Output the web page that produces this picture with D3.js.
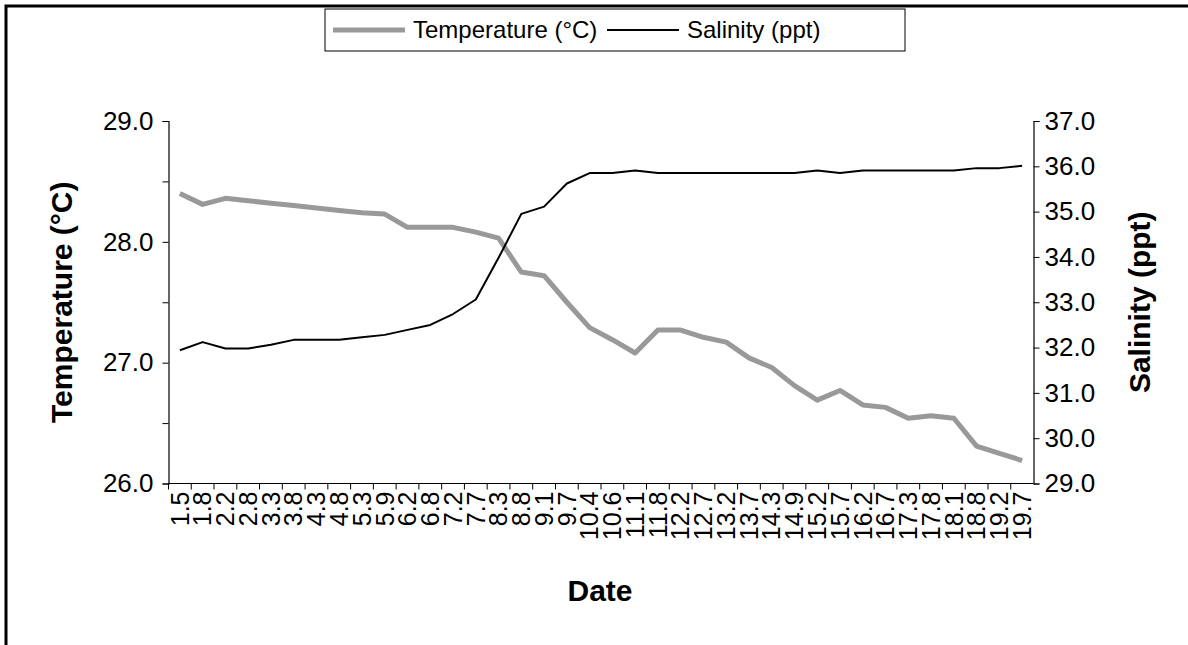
<!DOCTYPE html>
<html>
<head>
<meta charset="utf-8">
<script src="https://cdn.jsdelivr.net/npm/d3@7"></script>
<style>
  body { margin: 0; background: #fff; }
  svg { display: block; font-family: "Liberation Sans", Arial, sans-serif; }
</style>
</head>
<body>
<script>
// dates (day.month style labels as in the source chart)
const dates = ['1.5', '1.8', '2.2', '2.8', '3.3', '3.8', '4.3', '4.8', '5.3', '5.9',
    '6.2', '6.8', '7.2', '7.7', '8.3', '8.8', '9.1', '9.7', '10.4', '10.6',
    '11.1', '11.8', '12.2', '12.7', '13.2', '13.7', '14.3', '14.9', '15.2', '15.7',
    '16.2', '16.7', '17.3', '17.8', '18.1', '18.8', '19.2', '19.7'];

const temperature = [28.40, 28.31, 28.36, 28.34, 28.32, 28.30, 28.28, 28.26, 28.24, 28.23,
    28.12, 28.12, 28.12, 28.08, 28.03, 27.75, 27.72, 27.50, 27.29, 27.19,
    27.08, 27.27, 27.27, 27.21, 27.17, 27.04, 26.96, 26.81, 26.69, 26.77,
    26.65, 26.63, 26.54, 26.56, 26.54, 26.31, 26.25, 26.19];

const salinity = [31.94, 32.12, 31.98, 31.98, 32.06, 32.17, 32.17, 32.17, 32.23, 32.28,
    32.39, 32.50, 32.74, 33.06, 33.98, 34.95, 35.11, 35.62, 35.85, 35.85,
    35.91, 35.85, 35.85, 35.85, 35.85, 35.85, 35.85, 35.85, 35.91, 35.85,
    35.91, 35.91, 35.91, 35.91, 35.91, 35.96, 35.96, 36.01];

const tempTicks = [26, 26.5, 27, 27.5, 28, 28.5, 29];
const salTicks = [29, 30, 31, 32, 33, 34, 35, 36, 37];

const series = [
    { name: 'Temperature (°C)', values: temperature, color: '#999999', width: 5 },
    { name: 'Salinity (ppt)', values: salinity, color: '#000000', width: 2 }
];

const W = 1188, H = 645;
const plot = { left: 168.5, right: 1033.5, top: 121, bottom: 483.5 };

const svg = d3.select('body').append('svg')
    .attr('width', W)
    .attr('height', H);

// outer chart frame (only top and left edges fall inside the window)
svg.append('path')
    .attr('d', `M6,${H + 5}V6H${W + 5}`)
    .attr('fill', 'none')
    .attr('stroke', '#000')
    .attr('stroke-width', 3);

const x = d3.scaleBand()
    .domain(dates)
    .range([plot.left, plot.right])
    .padding(0);

const yT = d3.scaleLinear().domain([26, 29]).range([plot.bottom, plot.top]);
const yS = d3.scaleLinear().domain([29, 37]).range([plot.bottom, plot.top]);

const cx = d => x(d) + x.bandwidth() / 2;

// left axis
const leftAxis = svg.append('g')
    .attr('transform', `translate(${plot.left},0)`)
    .call(d3.axisLeft(yT)
        .tickValues(tempTicks)
        .tickSize(6)
        .tickPadding(9)
        .tickFormat(d => Number.isInteger(d) ? d3.format('.1f')(d) : ''));

// right axis
const rightAxis = svg.append('g')
    .attr('transform', `translate(${plot.right},0)`)
    .call(d3.axisRight(yS)
        .tickValues(salTicks)
        .tickSize(6)
        .tickPadding(5)
        .tickFormat(d3.format('.1f')));

// bottom axis: labels at category centres, tick marks between categories
const bottomAxis = svg.append('g')
    .attr('transform', `translate(0,${plot.bottom})`)
    .call(d3.axisBottom(x).tickSize(0).tickPadding(0));

bottomAxis.select('.domain').attr('d', `M${plot.left},0H${plot.right}`);

bottomAxis.selectAll('.tick text')
    .attr('transform', 'rotate(-90)')
    .attr('text-anchor', 'end')
    .attr('x', -8)
    .attr('y', 0)
    .attr('dy', '0.35em')
    .style('font-size', '25px');

bottomAxis.selectAll('line.sep')
    .data(dates)
    .enter()
    .append('line')
    .attr('class', 'sep')
    .attr('x1', d => x(d))
    .attr('x2', d => x(d))
    .attr('y1', 0)
    .attr('y2', 6)
    .attr('stroke', '#000');

[leftAxis, rightAxis, bottomAxis].forEach(g => {
    g.selectAll('.domain').attr('stroke', '#000').attr('stroke-width', 1.2);
    g.selectAll('.tick line').attr('stroke', '#000');
    g.selectAll('text').attr('fill', '#000').attr('font-family', null);
});
leftAxis.selectAll('text').style('font-size', '26px');
rightAxis.selectAll('text').style('font-size', '26px');

// lines
const lineFor = scale => d3.line()
    .x((d, i) => cx(dates[i]))
    .y(d => scale(d));

series.forEach((s, i) => {
    svg.append('path')
        .datum(s.values)
        .attr('d', lineFor(i === 0 ? yT : yS))
        .attr('fill', 'none')
        .attr('stroke', s.color)
        .attr('stroke-width', s.width)
        .attr('stroke-linejoin', 'round');
});

// axis titles
const titleSize = '30px';
svg.append('text')
    .attr('transform', `translate(72,${(plot.top + plot.bottom) / 2}) rotate(-90)`)
    .attr('text-anchor', 'middle')
    .style('font-size', titleSize)
    .style('font-weight', 'bold')
    .text('Temperature (°C)');

svg.append('text')
    .attr('transform', `translate(1150,${(plot.top + plot.bottom) / 2}) rotate(-90)`)
    .attr('text-anchor', 'middle')
    .style('font-size', titleSize)
    .style('font-weight', 'bold')
    .text('Salinity (ppt)');

svg.append('text')
    .attr('x', 600)
    .attr('y', 601)
    .attr('text-anchor', 'middle')
    .style('font-size', titleSize)
    .style('font-weight', 'bold')
    .text('Date');

// legend
const legend = svg.append('g').attr('transform', 'translate(325,9)');
legend.append('rect')
    .attr('width', 580)
    .attr('height', 42)
    .attr('fill', '#fff')
    .attr('stroke', '#000')
    .attr('stroke-width', 1);

const legendX = [8, 282];
series.forEach((s, i) => {
    const g = legend.append('g').attr('transform', `translate(${legendX[i]},21)`);
    g.append('line')
        .attr('x1', 0).attr('x2', 72)
        .attr('stroke', s.color)
        .attr('stroke-width', s.width);
    g.append('text')
        .attr('x', 80)
        .attr('dy', '0.35em')
        .style('font-size', '24px')
        .text(s.name);
});
</script>
</body>
</html>
